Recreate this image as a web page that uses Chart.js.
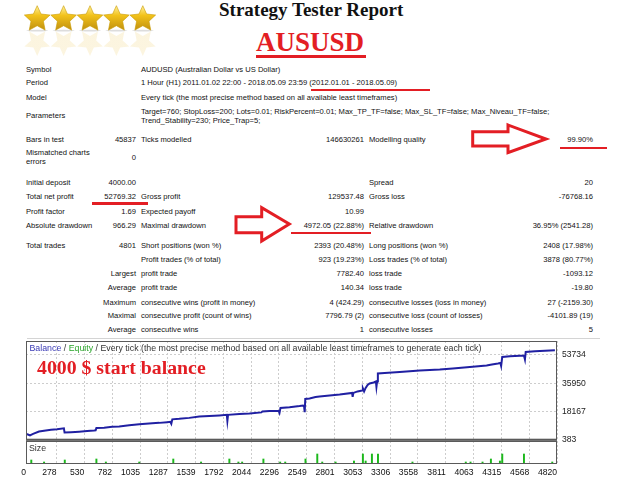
<!DOCTYPE html>
<html><head><meta charset="utf-8">
<script src="https://cdn.jsdelivr.net/npm/chart.js@4.4.1/dist/chart.umd.min.js"></script>
<style>
html,body{margin:0;padding:0;background:#fff;}
#page{position:relative;width:640px;height:480px;overflow:hidden;background:#fff;font-family:"Liberation Sans",Arial,sans-serif;color:#111;}
.t{position:absolute;white-space:nowrap;font-size:7.6px;line-height:10px;height:10px;}
.a{left:26px}.b{right:504px;text-align:right}.c{left:141px}.d{right:276px;text-align:right}.e{left:369px}.f{right:47px;text-align:right}
.red{position:absolute;background:#e31e24;}
canvas{position:absolute;left:0;}
</style></head>
<body>
<div id="page">
<svg style="position:absolute;left:0;top:0" width="640" height="480">
 <defs>
  <linearGradient id="gold" x1="0" y1="0" x2="0" y2="1">
   <stop offset="0" stop-color="#fff2a0"/><stop offset="0.4" stop-color="#f2c21a"/><stop offset="1" stop-color="#c09010"/>
  </linearGradient>
  <linearGradient id="refl" gradientUnits="userSpaceOnUse" x1="0" y1="31" x2="0" y2="41">
   <stop offset="0" stop-color="#f0d070" stop-opacity="0.22"/><stop offset="1" stop-color="#f0d070" stop-opacity="0"/>
  </linearGradient>
  <polygon id="star" points="0,-13.5 3.8,-5.2 12.84,-4.17 6.2,2 7.94,10.92 0,6.5 -7.94,10.92 -6.2,2 -12.84,-4.17 -3.8,-5.2"/>
 </defs>
 <g fill="#bdbdbd" opacity="0.5">
  <ellipse cx="37.2" cy="30.6" rx="11" ry="0.9"/><ellipse cx="63.6" cy="30.6" rx="11" ry="0.9"/><ellipse cx="90" cy="30.6" rx="11" ry="0.9"/><ellipse cx="116.4" cy="30.6" rx="11" ry="0.9"/><ellipse cx="142.8" cy="30.6" rx="11" ry="0.9"/>
 </g>
 <g fill="url(#gold)" stroke="#c99a00" stroke-width="0.6">
  <use href="#star" transform="translate(37.2,19.2)"/>
  <use href="#star" transform="translate(63.6,19.2)"/>
  <use href="#star" transform="translate(90,19.2)"/>
  <use href="#star" transform="translate(116.4,19.2)"/>
  <use href="#star" transform="translate(142.8,19.2)"/>
 </g>
 <g fill="url(#refl)">
  <use href="#star" transform="translate(37.2,42.4) scale(1,-1)"/>
  <use href="#star" transform="translate(63.6,42.4) scale(1,-1)"/>
  <use href="#star" transform="translate(90,42.4) scale(1,-1)"/>
  <use href="#star" transform="translate(116.4,42.4) scale(1,-1)"/>
  <use href="#star" transform="translate(142.8,42.4) scale(1,-1)"/>
 </g>
 <g fill="none" stroke="#e31e24" stroke-width="3" stroke-linejoin="miter">
  <polygon points="472.7,131.7 508,131.7 508,125 546,139 508,152.7 508,146 472.7,146"/>
  <polygon points="236,216.7 261.7,216.7 261.7,207.7 289.3,224 261.7,241 261.7,232.7 236,232.7"/>
 </g>
</svg>

<div style="position:absolute;left:219px;top:0px;font-family:'Liberation Serif','Times New Roman',serif;font-weight:bold;font-size:19px;line-height:20px;color:#111;white-space:nowrap">Strategy Tester Report</div>
<div style="position:absolute;left:256px;top:29px;font-family:'Liberation Serif','Times New Roman',serif;font-weight:bold;font-size:27px;line-height:27px;color:#e31e24;white-space:nowrap">AUSUSD</div>
<div class="red" style="left:256px;top:55px;width:110px;height:3px"></div>

<div class="t a" style="top:64.7px">Symbol</div>
<div class="t c" style="top:64.7px">AUDUSD (Australian Dollar vs US Dollar)</div>
<div class="t a" style="top:78.3px">Period</div>
<div class="t c" style="top:78.3px">1 Hour (H1) 2011.01.02 22:00 - 2018.05.09 23:59 (2012.01.01 - 2018.05.09)</div>
<div class="red" style="left:311px;top:88.5px;width:119px;height:2px"></div>
<div class="t a" style="top:93px">Model</div>
<div class="t c" style="top:93px">Every tick (the most precise method based on all available least timeframes)</div>
<div class="t a" style="top:111px">Parameters</div>
<div class="t c" style="top:106.7px">Target=760; StopLoss=200; Lots=0.01; RiskPercent=0.01; Max_TP_TF=false; Max_SL_TF=false; Max_Niveau_TF=false;</div>
<div class="t c" style="top:116px">Trend_Stability=230; Price_Trap=5;</div>
<div class="t a" style="top:135px">Bars in test</div>
<div class="t b" style="top:135px">45837</div>
<div class="t c" style="top:135px">Ticks modelled</div>
<div class="t d" style="top:135px">146630261</div>
<div class="t e" style="top:135px">Modelling quality</div>
<div class="t f" style="top:135px">99.90%</div>
<div class="red" style="left:560px;top:146.5px;width:47px;height:2.5px"></div>
<div class="t a" style="top:149px;height:18px;line-height:8.5px">Mismatched charts<br>errors</div>
<div class="t b" style="top:153px">0</div>

<div class="t a" style="top:178.3px">Initial deposit</div>
<div class="t b" style="top:178.3px">4000.00</div>
<div class="t e" style="top:178.3px">Spread</div>
<div class="t f" style="top:178.3px">20</div>
<div class="t a" style="top:192.3px">Total net profit</div>
<div class="t b" style="top:192.3px">52769.32</div>
<div class="red" style="left:92px;top:202.3px;width:56px;height:2.5px"></div>
<div class="t c" style="top:192.3px">Gross profit</div>
<div class="t d" style="top:192.3px">129537.48</div>
<div class="t e" style="top:192.3px">Gross loss</div>
<div class="t f" style="top:192.3px">-76768.16</div>
<div class="t a" style="top:206.7px">Profit factor</div>
<div class="t b" style="top:206.7px">1.69</div>
<div class="t c" style="top:206.7px">Expected payoff</div>
<div class="t d" style="top:206.7px">10.99</div>
<div class="t a" style="top:220.7px">Absolute drawdown</div>
<div class="t b" style="top:220.7px">966.29</div>
<div class="t c" style="top:220.7px">Maximal drawdown</div>
<div class="t d" style="top:220.7px">4972.05 (22.88%)</div>
<div class="red" style="left:291px;top:231.7px;width:80px;height:2.5px"></div>
<div class="t e" style="top:220.7px">Relative drawdown</div>
<div class="t f" style="top:220.7px">36.95% (2541.28)</div>

<div class="t a" style="top:241.3px">Total trades</div>
<div class="t b" style="top:241.3px">4801</div>
<div class="t c" style="top:241.3px">Short positions (won %)</div>
<div class="t d" style="top:241.3px">2393 (20.48%)</div>
<div class="t e" style="top:241.3px">Long positions (won %)</div>
<div class="t f" style="top:241.3px">2408 (17.98%)</div>
<div class="t c" style="top:255px">Profit trades (% of total)</div>
<div class="t d" style="top:255px">923 (19.23%)</div>
<div class="t e" style="top:255px">Loss trades (% of total)</div>
<div class="t f" style="top:255px">3878 (80.77%)</div>
<div class="t b" style="top:269.3px">Largest</div>
<div class="t c" style="top:269.3px">profit trade</div>
<div class="t d" style="top:269.3px">7782.40</div>
<div class="t e" style="top:269.3px">loss trade</div>
<div class="t f" style="top:269.3px">-1093.12</div>
<div class="t b" style="top:283.3px">Average</div>
<div class="t c" style="top:283.3px">profit trade</div>
<div class="t d" style="top:283.3px">140.34</div>
<div class="t e" style="top:283.3px">loss trade</div>
<div class="t f" style="top:283.3px">-19.80</div>
<div class="t b" style="top:297.7px">Maximum</div>
<div class="t c" style="top:297.7px">consecutive wins (profit in money)</div>
<div class="t d" style="top:297.7px">4 (424.29)</div>
<div class="t e" style="top:297.7px">consecutive losses (loss in money)</div>
<div class="t f" style="top:297.7px">27 (-2159.30)</div>
<div class="t b" style="top:311px">Maximal</div>
<div class="t c" style="top:311px">consecutive profit (count of wins)</div>
<div class="t d" style="top:311px">7796.79 (2)</div>
<div class="t e" style="top:311px">consecutive loss (count of losses)</div>
<div class="t f" style="top:311px">-4101.89 (19)</div>
<div class="t b" style="top:325.3px">Average</div>
<div class="t c" style="top:325.3px">consecutive wins</div>
<div class="t d" style="top:325.3px">1</div>
<div class="t e" style="top:325.3px">consecutive losses</div>
<div class="t f" style="top:325.3px">5</div>
<div style="position:absolute;left:27px;top:338px;width:573px;height:1px;background:#d4d4d4"></div>

<canvas id="main" width="640" height="120" style="top:330px;width:640px;height:120px"></canvas>
<canvas id="size" width="640" height="44" style="top:436px;width:640px;height:44px"></canvas>

<div class="t" style="left:29.5px;top:342.7px;font-size:8.8px;color:#333"><span style="color:#3a3ab5">Balance</span> / <span style="color:#2aa52a">Equity</span> / Every tick (the most precise method based on all available least timeframes to generate each tick)</div>
<div style="position:absolute;left:37px;top:358px;font-family:'Liberation Serif','Times New Roman',serif;font-weight:bold;font-size:19.8px;line-height:19px;color:#e31e24;white-space:nowrap">4000 $ start balance</div>
<div class="t" style="left:29px;top:443.3px;font-size:8.8px;color:#333">Size</div>
</div>

<script>
// ---- data ----
const xTickLabels = [0,278,530,782,1035,1287,1539,1792,2044,2296,2549,2801,3053,3306,3558,3811,4063,4315,4568,4820];
const yTickLabels = [383,18167,35950,53734];
const balanceTrades = [0,18,36,64,118,164,227,282,344,350,409,482,555,618,632,639,709,782,846,937,1028,1146,1210,1282,1310,1319,1328,1391,1482,1573,1664,1755,1823,1828,1834,1937,2028,2137,2146,2210,2292,2301,2310,2392,2483,2515,2524,2530,2535,2574,2628,2665,2756,2847,2960,2965,2972,3010,3051,3058,3069,3083,3101,3119,3156,3176,3181,3187,3194,3256,3392,3574,3756,3874,4029,4181,4229,4284,4306,4313,4323,4393,4484,4520,4529,4536,4620,4711,4801];
const balanceValues = [4000,3700,3200,4150,5600,6160,6660,6970,7600,4970,5220,5530,5910,6220,6350,7790,8040,8540,8730,9490,10110,10870,11050,11490,11680,10430,13250,13570,14190,15010,15320,15760,16080,12310,16080,16700,17020,17650,18270,18590,18710,17330,20470,20910,21600,21910,21410,17770,26120,26430,27370,27690,28320,28940,29890,27370,29890,30830,31450,32710,30830,33020,34910,35850,36480,37100,33650,37100,42130,42440,43070,44010,44640,45260,46210,47150,47770,48400,48720,46830,52480,52920,53240,53420,50910,55620,56060,56440,56769];
const sizeTrades = [48,164,352,639,725,1028,1337,1589,1846,1928,1962,2155,2307,2353,2537,2644,2689,2810,2977,3058,3083,3140,3195,3508,3992,4035,4144,4220,4302,4323,4520,4777];
const sizeValues = [0.04,0.02,0.04,0.05,0.02,0.02,0.05,0.02,0.05,0.02,0.02,0.05,0.02,0.02,0.05,0.10,0.02,0.02,0.03,0.10,0.03,0.10,0.10,0.02,0.02,0.02,0.02,0.05,0.03,0.10,0.10,0.02];

Chart.defaults.font.family = "'Liberation Sans', Arial, sans-serif";
Chart.defaults.color = '#1c1c1c';

const boxPlugin = {
  id: 'box',
  afterDraw(chart, args, opts) {
    const {ctx, chartArea: a} = chart;
    ctx.save();
    ctx.strokeStyle = opts.color || '#555';
    ctx.lineWidth = 1;
    ctx.strokeRect(a.left + 0.5, a.top + 0.5, a.right - a.left - 1, a.bottom - a.top - 1);
    if (opts.thickBottom) {
      ctx.fillStyle = opts.color || '#555';
      ctx.fillRect(a.left, a.bottom - 1, a.right - a.left, 2);
    }
    ctx.restore();
  }
};

const gridColor = '#cdcdcd';
const tickFont = {size: 8.6};

new Chart(document.getElementById('main'), {
  type: 'line',
  data: {
    datasets: [{
      data: balanceTrades.map((t, i) => ({x: t, y: balanceValues[i]})),
      borderColor: '#2020a2', borderWidth: 2, pointRadius: 0, tension: 0, fill: false
    }]
  },
  options: {
    responsive: false, animation: false,
    layout: {padding: {left: 26, top: 11, right: 0, bottom: 10}},
    plugins: {legend: {display: false}, tooltip: {enabled: false}, box: {color: '#5a5a5a', thickBottom: true}},
    scales: {
      x: {
        type: 'linear', min: 0, max: 4820,
        afterBuildTicks(s) { s.ticks = xTickLabels.map(v => ({value: v})); },
        afterFit(s) { s.height = 0; },
        ticks: {display: false},
        grid: {color: gridColor, drawTicks: false},
        border: {display: false, dash: [2, 2]}
      },
      y: {
        position: 'right', min: 383, max: 62525,
        afterBuildTicks(s) { s.ticks = yTickLabels.map(v => ({value: v})); },
        afterFit(s) { s.width = 83; },
        ticks: {padding: 5, font: tickFont, color: '#222', callback: v => String(v)},
        grid: {color: gridColor, drawTicks: false},
        border: {display: false, dash: [2, 2]}
      }
    }
  },
  plugins: [boxPlugin]
});

new Chart(document.getElementById('size'), {
  type: 'bar',
  data: {
    datasets: [{
      data: sizeTrades.map((t, i) => ({x: t, y: sizeValues[i]})),
      backgroundColor: '#1cb81c', borderWidth: 0, barThickness: 1.3
    }]
  },
  options: {
    responsive: false, animation: false,
    layout: {padding: {left: 26, top: 5, right: 83, bottom: 0}},
    plugins: {legend: {display: false}, tooltip: {enabled: false}, box: {color: '#5a5a5a'}},
    scales: {
      x: {
        type: 'linear', min: 0, max: 4820, offset: false,
        afterBuildTicks(s) { s.ticks = xTickLabels.map(v => ({value: v})); },
        afterFit(s) { s.height = 16; },
        ticks: {align: 'end', padding: 3, autoSkip: false, maxRotation: 0, font: tickFont, color: '#111', callback: v => String(v)},
        grid: {color: gridColor, drawTicks: false, offset: false},
        border: {display: false, dash: [2, 2]}
      },
      y: {display: false, min: 0, max: 0.23}
    }
  },
  plugins: [boxPlugin]
});
</script>
</body></html>
